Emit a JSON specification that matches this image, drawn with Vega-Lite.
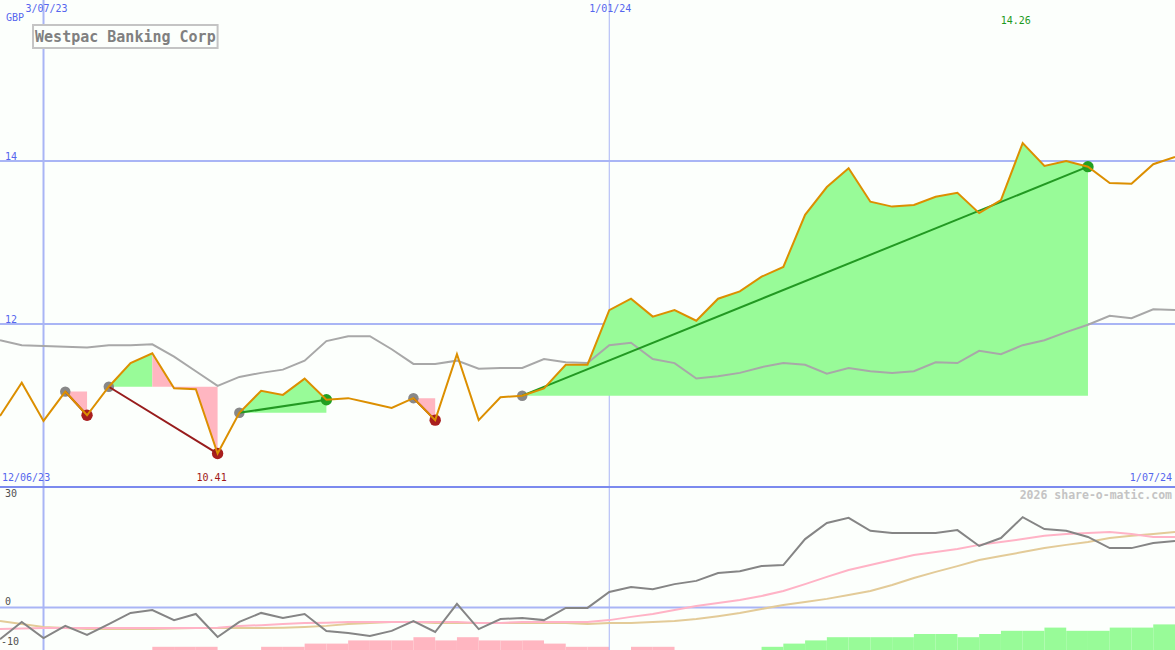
{
  "$schema": "https://vega.github.io/schema/vega-lite/v6.json",
  "description": "Westpac Banking Corp weekly close with trades, moving average and oscillator panel",
  "background": "#fcfffc",
  "padding": 0,
  "spacing": 0,
  "bounds": "flush",
  "config": {"view": {"stroke": null}, "concat": {"spacing": 0}, "text": {"font": "DejaVu Sans Mono"}},
  "datasets": {
    "weekly": [
      {"date": "2023-06-19", "close": 10.87, "ma": 11.80, "osc": -8.8, "fast": -6.0, "slow": -3.75},
      {"date": "2023-06-26", "close": 11.28, "ma": 11.74, "osc": -4.0, "fast": -5.8, "slow": -4.6},
      {"date": "2023-07-03", "close": 10.81, "ma": 11.73, "osc": -8.5, "fast": -5.7, "slow": -5.4},
      {"date": "2023-07-10", "close": 11.17, "ma": 11.72, "osc": -5.1, "fast": -5.7, "slow": -5.7},
      {"date": "2023-07-17", "close": 10.88, "ma": 11.71, "osc": -7.6, "fast": -5.7, "slow": -6.0},
      {"date": "2023-07-24", "close": 11.23, "ma": 11.74, "osc": -4.6, "fast": -5.7, "slow": -6.0},
      {"date": "2023-07-31", "close": 11.52, "ma": 11.74, "osc": -1.5, "fast": -5.7, "slow": -6.0},
      {"date": "2023-08-07", "close": 11.64, "ma": 11.75, "osc": -0.7, "fast": -5.7, "slow": -6.0},
      {"date": "2023-08-14", "close": 11.21, "ma": 11.60, "osc": -3.5, "fast": -5.7, "slow": -5.8},
      {"date": "2023-08-21", "close": 11.20, "ma": 11.42, "osc": -1.8, "fast": -5.7, "slow": -5.7},
      {"date": "2023-08-28", "close": 10.41, "ma": 11.24, "osc": -8.2, "fast": -5.6, "slow": -5.7},
      {"date": "2023-09-04", "close": 10.91, "ma": 11.35, "osc": -4.0, "fast": -5.1, "slow": -5.7},
      {"date": "2023-09-11", "close": 11.18, "ma": 11.40, "osc": -1.5, "fast": -4.9, "slow": -5.7},
      {"date": "2023-09-18", "close": 11.13, "ma": 11.44, "osc": -2.9, "fast": -4.6, "slow": -5.6},
      {"date": "2023-09-25", "close": 11.33, "ma": 11.55, "osc": -1.8, "fast": -4.3, "slow": -5.4},
      {"date": "2023-10-02", "close": 11.07, "ma": 11.79, "osc": -6.5, "fast": -4.2, "slow": -5.1},
      {"date": "2023-10-09", "close": 11.09, "ma": 11.85, "osc": -7.1, "fast": -4.0, "slow": -4.6},
      {"date": "2023-10-16", "close": 11.03, "ma": 11.85, "osc": -7.9, "fast": -4.0, "slow": -4.3},
      {"date": "2023-10-23", "close": 10.97, "ma": 11.69, "osc": -6.5, "fast": -4.0, "slow": -4.0},
      {"date": "2023-10-30", "close": 11.09, "ma": 11.51, "osc": -3.75, "fast": -4.0, "slow": -4.0},
      {"date": "2023-11-06", "close": 10.82, "ma": 11.51, "osc": -6.8, "fast": -4.0, "slow": -4.3},
      {"date": "2023-11-13", "close": 11.63, "ma": 11.55, "osc": 1.0, "fast": -4.0, "slow": -4.3},
      {"date": "2023-11-20", "close": 10.82, "ma": 11.45, "osc": -6.0, "fast": -4.3, "slow": -4.3},
      {"date": "2023-11-27", "close": 11.10, "ma": 11.46, "osc": -3.2, "fast": -4.3, "slow": -4.3},
      {"date": "2023-12-04", "close": 11.12, "ma": 11.46, "osc": -2.9, "fast": -4.0, "slow": -4.3},
      {"date": "2023-12-11", "close": 11.21, "ma": 11.57, "osc": -3.5, "fast": -4.0, "slow": -4.3},
      {"date": "2023-12-18", "close": 11.50, "ma": 11.53, "osc": -0.1, "fast": -4.0, "slow": -4.3},
      {"date": "2023-12-25", "close": 11.50, "ma": 11.52, "osc": -0.1, "fast": -4.0, "slow": -4.6},
      {"date": "2024-01-01", "close": 12.17, "ma": 11.74, "osc": 4.3, "fast": -3.5, "slow": -4.3},
      {"date": "2024-01-08", "close": 12.31, "ma": 11.77, "osc": 5.7, "fast": -2.6, "slow": -4.3},
      {"date": "2024-01-15", "close": 12.09, "ma": 11.57, "osc": 5.1, "fast": -1.8, "slow": -4.0},
      {"date": "2024-01-22", "close": 12.17, "ma": 11.52, "osc": 6.5, "fast": -0.7, "slow": -3.75},
      {"date": "2024-01-29", "close": 12.04, "ma": 11.33, "osc": 7.4, "fast": 0.4, "slow": -3.2},
      {"date": "2024-02-05", "close": 12.31, "ma": 11.36, "osc": 9.6, "fast": 1.25, "slow": -2.4},
      {"date": "2024-02-12", "close": 12.40, "ma": 11.40, "osc": 10.1, "fast": 2.1, "slow": -1.5},
      {"date": "2024-02-19", "close": 12.58, "ma": 11.47, "osc": 11.5, "fast": 3.2, "slow": -0.4},
      {"date": "2024-02-26", "close": 12.70, "ma": 11.52, "osc": 11.8, "fast": 4.6, "slow": 0.7},
      {"date": "2024-03-04", "close": 13.34, "ma": 11.50, "osc": 19.0, "fast": 6.5, "slow": 1.5},
      {"date": "2024-03-11", "close": 13.68, "ma": 11.39, "osc": 23.5, "fast": 8.5, "slow": 2.4},
      {"date": "2024-03-18", "close": 13.91, "ma": 11.46, "osc": 24.9, "fast": 10.4, "slow": 3.5},
      {"date": "2024-03-25", "close": 13.50, "ma": 11.42, "osc": 21.3, "fast": 11.8, "slow": 4.6},
      {"date": "2024-04-01", "close": 13.44, "ma": 11.40, "osc": 20.7, "fast": 13.2, "slow": 6.25},
      {"date": "2024-04-08", "close": 13.46, "ma": 11.42, "osc": 20.7, "fast": 14.6, "slow": 8.2},
      {"date": "2024-04-15", "close": 13.56, "ma": 11.53, "osc": 20.7, "fast": 15.4, "slow": 9.9},
      {"date": "2024-04-22", "close": 13.61, "ma": 11.52, "osc": 21.5, "fast": 16.25, "slow": 11.5},
      {"date": "2024-04-29", "close": 13.36, "ma": 11.67, "osc": 17.1, "fast": 17.4, "slow": 13.2},
      {"date": "2024-05-06", "close": 13.52, "ma": 11.63, "osc": 19.3, "fast": 18.2, "slow": 14.3},
      {"date": "2024-05-13", "close": 14.22, "ma": 11.74, "osc": 25.1, "fast": 19.0, "slow": 15.4},
      {"date": "2024-05-20", "close": 13.94, "ma": 11.80, "osc": 21.8, "fast": 19.9, "slow": 16.5},
      {"date": "2024-05-27", "close": 14.00, "ma": 11.90, "osc": 21.3, "fast": 20.4, "slow": 17.4},
      {"date": "2024-06-03", "close": 13.93, "ma": 11.99, "osc": 19.6, "fast": 20.7, "slow": 18.2},
      {"date": "2024-06-10", "close": 13.73, "ma": 12.10, "osc": 16.5, "fast": 21.0, "slow": 19.3},
      {"date": "2024-06-17", "close": 13.72, "ma": 12.07, "osc": 16.5, "fast": 20.4, "slow": 19.9},
      {"date": "2024-06-24", "close": 13.96, "ma": 12.18, "osc": 17.9, "fast": 19.6, "slow": 20.4},
      {"date": "2024-07-01", "close": 14.05, "ma": 12.17, "osc": 18.5, "fast": 19.6, "slow": 21.0}
    ],
    "fills": [
      {"seg": "A", "result": "loss", "date": "2023-07-10", "close": 11.17, "base": 11.17},
      {"seg": "A", "result": "loss", "date": "2023-07-17", "close": 10.88, "base": 11.17},
      {"seg": "B1", "result": "gain", "date": "2023-07-24", "close": 11.23, "base": 11.23},
      {"seg": "B1", "result": "gain", "date": "2023-07-31", "close": 11.52, "base": 11.23},
      {"seg": "B1", "result": "gain", "date": "2023-08-07", "close": 11.64, "base": 11.23},
      {"seg": "B2", "result": "loss", "date": "2023-08-07", "close": 11.64, "base": 11.23},
      {"seg": "B2", "result": "loss", "date": "2023-08-14", "close": 11.21, "base": 11.23},
      {"seg": "B2", "result": "loss", "date": "2023-08-21", "close": 11.20, "base": 11.23},
      {"seg": "B2", "result": "loss", "date": "2023-08-28", "close": 10.41, "base": 11.23},
      {"seg": "C", "result": "gain", "date": "2023-09-04", "close": 10.91, "base": 10.91},
      {"seg": "C", "result": "gain", "date": "2023-09-11", "close": 11.18, "base": 10.91},
      {"seg": "C", "result": "gain", "date": "2023-09-18", "close": 11.13, "base": 10.91},
      {"seg": "C", "result": "gain", "date": "2023-09-25", "close": 11.33, "base": 10.91},
      {"seg": "C", "result": "gain", "date": "2023-10-02", "close": 11.07, "base": 10.91},
      {"seg": "D", "result": "loss", "date": "2023-10-30", "close": 11.09, "base": 11.09},
      {"seg": "D", "result": "loss", "date": "2023-11-06", "close": 10.82, "base": 11.09},
      {"seg": "E", "result": "gain", "date": "2023-12-04", "close": 11.12, "base": 11.12},
      {"seg": "E", "result": "gain", "date": "2023-12-11", "close": 11.21, "base": 11.12},
      {"seg": "E", "result": "gain", "date": "2023-12-18", "close": 11.50, "base": 11.12},
      {"seg": "E", "result": "gain", "date": "2023-12-25", "close": 11.50, "base": 11.12},
      {"seg": "E", "result": "gain", "date": "2024-01-01", "close": 12.17, "base": 11.12},
      {"seg": "E", "result": "gain", "date": "2024-01-08", "close": 12.31, "base": 11.12},
      {"seg": "E", "result": "gain", "date": "2024-01-15", "close": 12.09, "base": 11.12},
      {"seg": "E", "result": "gain", "date": "2024-01-22", "close": 12.17, "base": 11.12},
      {"seg": "E", "result": "gain", "date": "2024-01-29", "close": 12.04, "base": 11.12},
      {"seg": "E", "result": "gain", "date": "2024-02-05", "close": 12.31, "base": 11.12},
      {"seg": "E", "result": "gain", "date": "2024-02-12", "close": 12.40, "base": 11.12},
      {"seg": "E", "result": "gain", "date": "2024-02-19", "close": 12.58, "base": 11.12},
      {"seg": "E", "result": "gain", "date": "2024-02-26", "close": 12.70, "base": 11.12},
      {"seg": "E", "result": "gain", "date": "2024-03-04", "close": 13.34, "base": 11.12},
      {"seg": "E", "result": "gain", "date": "2024-03-11", "close": 13.68, "base": 11.12},
      {"seg": "E", "result": "gain", "date": "2024-03-18", "close": 13.91, "base": 11.12},
      {"seg": "E", "result": "gain", "date": "2024-03-25", "close": 13.50, "base": 11.12},
      {"seg": "E", "result": "gain", "date": "2024-04-01", "close": 13.44, "base": 11.12},
      {"seg": "E", "result": "gain", "date": "2024-04-08", "close": 13.46, "base": 11.12},
      {"seg": "E", "result": "gain", "date": "2024-04-15", "close": 13.56, "base": 11.12},
      {"seg": "E", "result": "gain", "date": "2024-04-22", "close": 13.61, "base": 11.12},
      {"seg": "E", "result": "gain", "date": "2024-04-29", "close": 13.36, "base": 11.12},
      {"seg": "E", "result": "gain", "date": "2024-05-06", "close": 13.52, "base": 11.12},
      {"seg": "E", "result": "gain", "date": "2024-05-13", "close": 14.22, "base": 11.12},
      {"seg": "E", "result": "gain", "date": "2024-05-20", "close": 13.94, "base": 11.12},
      {"seg": "E", "result": "gain", "date": "2024-05-27", "close": 14.00, "base": 11.12},
      {"seg": "E", "result": "gain", "date": "2024-06-03", "close": 13.93, "base": 11.12}
    ],
    "trades": [
      {"entry": "2023-07-10", "entryPrice": 11.17, "exit": "2023-07-17", "exitPrice": 10.88, "result": "loss"},
      {"entry": "2023-07-24", "entryPrice": 11.23, "exit": "2023-08-28", "exitPrice": 10.41, "result": "loss"},
      {"entry": "2023-09-04", "entryPrice": 10.91, "exit": "2023-10-02", "exitPrice": 11.07, "result": "gain"},
      {"entry": "2023-10-30", "entryPrice": 11.09, "exit": "2023-11-06", "exitPrice": 10.82, "result": "loss"},
      {"entry": "2023-12-04", "entryPrice": 11.12, "exit": "2024-06-03", "exitPrice": 13.93, "result": "gain"}
    ],
    "bars": [
      {"date": "2023-08-07", "end": "2023-08-14", "level": 1, "result": "loss"},
      {"date": "2023-08-14", "end": "2023-08-21", "level": 1, "result": "loss"},
      {"date": "2023-08-21", "end": "2023-08-28", "level": 1, "result": "loss"},
      {"date": "2023-09-11", "end": "2023-09-18", "level": 1, "result": "loss"},
      {"date": "2023-09-18", "end": "2023-09-25", "level": 1, "result": "loss"},
      {"date": "2023-09-25", "end": "2023-10-02", "level": 2, "result": "loss"},
      {"date": "2023-10-02", "end": "2023-10-09", "level": 2, "result": "loss"},
      {"date": "2023-10-09", "end": "2023-10-16", "level": 3, "result": "loss"},
      {"date": "2023-10-16", "end": "2023-10-23", "level": 3, "result": "loss"},
      {"date": "2023-10-23", "end": "2023-10-30", "level": 3, "result": "loss"},
      {"date": "2023-10-30", "end": "2023-11-06", "level": 4, "result": "loss"},
      {"date": "2023-11-06", "end": "2023-11-13", "level": 3, "result": "loss"},
      {"date": "2023-11-13", "end": "2023-11-20", "level": 4, "result": "loss"},
      {"date": "2023-11-20", "end": "2023-11-27", "level": 3, "result": "loss"},
      {"date": "2023-11-27", "end": "2023-12-04", "level": 3, "result": "loss"},
      {"date": "2023-12-04", "end": "2023-12-11", "level": 3, "result": "loss"},
      {"date": "2023-12-11", "end": "2023-12-18", "level": 2, "result": "loss"},
      {"date": "2023-12-18", "end": "2023-12-25", "level": 1, "result": "loss"},
      {"date": "2023-12-25", "end": "2024-01-01", "level": 1, "result": "loss"},
      {"date": "2024-01-08", "end": "2024-01-15", "level": 1, "result": "loss"},
      {"date": "2024-01-15", "end": "2024-01-22", "level": 1, "result": "loss"},
      {"date": "2024-02-19", "end": "2024-02-26", "level": 1, "result": "gain"},
      {"date": "2024-02-26", "end": "2024-03-04", "level": 2, "result": "gain"},
      {"date": "2024-03-04", "end": "2024-03-11", "level": 3, "result": "gain"},
      {"date": "2024-03-11", "end": "2024-03-18", "level": 4, "result": "gain"},
      {"date": "2024-03-18", "end": "2024-03-25", "level": 4, "result": "gain"},
      {"date": "2024-03-25", "end": "2024-04-01", "level": 4, "result": "gain"},
      {"date": "2024-04-01", "end": "2024-04-08", "level": 4, "result": "gain"},
      {"date": "2024-04-08", "end": "2024-04-15", "level": 5, "result": "gain"},
      {"date": "2024-04-15", "end": "2024-04-22", "level": 5, "result": "gain"},
      {"date": "2024-04-22", "end": "2024-04-29", "level": 4, "result": "gain"},
      {"date": "2024-04-29", "end": "2024-05-06", "level": 5, "result": "gain"},
      {"date": "2024-05-06", "end": "2024-05-13", "level": 6, "result": "gain"},
      {"date": "2024-05-13", "end": "2024-05-20", "level": 6, "result": "gain"},
      {"date": "2024-05-20", "end": "2024-05-27", "level": 7, "result": "gain"},
      {"date": "2024-05-27", "end": "2024-06-03", "level": 6, "result": "gain"},
      {"date": "2024-06-03", "end": "2024-06-10", "level": 6, "result": "gain"},
      {"date": "2024-06-10", "end": "2024-06-17", "level": 7, "result": "gain"},
      {"date": "2024-06-17", "end": "2024-06-24", "level": 7, "result": "gain"},
      {"date": "2024-06-24", "end": "2024-07-01", "level": 8, "result": "gain"}
    ]
  },
  "vconcat": [
    {
      "width": 1175,
      "height": 486,
      "resolve": {"scale": {"color": "independent"}},
      "layer": [
        {
          "data": {"values": [{"level": 12}, {"level": 14}]},
          "mark": {"type": "rule", "color": "#a9b5f5", "strokeWidth": 2, "clip": true},
          "encoding": {"y": {"field": "level", "type": "quantitative", "scale": {"domain": [10.012, 15.975], "nice": false, "zero": false}, "axis": null}}
        },
        {
          "data": {"values": [{"date": "2023-07-03"}]},
          "mark": {"type": "rule", "color": "#a9b5f5", "strokeWidth": 2, "clip": true},
          "encoding": {"x": {"field": "date", "type": "temporal", "scale": {"type": "utc", "domain": [{"year": 2023, "month": 6, "date": 19, "utc": true}, {"year": 2024, "month": 7, "date": 1, "utc": true}]}, "axis": null}}
        },
        {
          "data": {"values": [{"date": "2024-01-01"}]},
          "mark": {"type": "rule", "color": "#a9b5f5", "strokeWidth": 1, "clip": true},
          "encoding": {"x": {"field": "date", "type": "temporal", "scale": {"type": "utc", "domain": [{"year": 2023, "month": 6, "date": 19, "utc": true}, {"year": 2024, "month": 7, "date": 1, "utc": true}]}, "axis": null}}
        },
        {
          "data": {"name": "fills"},
          "mark": {"type": "area", "opacity": 1, "clip": true},
          "encoding": {
            "x": {"field": "date", "type": "temporal", "scale": {"type": "utc", "domain": [{"year": 2023, "month": 6, "date": 19, "utc": true}, {"year": 2024, "month": 7, "date": 1, "utc": true}]}, "axis": null},
            "y": {"field": "close", "type": "quantitative", "scale": {"domain": [10.012, 15.975], "nice": false, "zero": false}, "axis": null},
            "y2": {"field": "base"},
            "detail": {"field": "seg", "type": "nominal"},
            "color": {"field": "result", "type": "nominal", "scale": {"domain": ["gain", "loss"], "range": ["#98fb98", "#ffb6c1"]}, "legend": null}
          }
        },
        {
          "data": {"name": "weekly"},
          "mark": {"type": "line", "color": "#a8a8a8", "strokeWidth": 2, "clip": true},
          "encoding": {
            "x": {"field": "date", "type": "temporal", "scale": {"type": "utc", "domain": [{"year": 2023, "month": 6, "date": 19, "utc": true}, {"year": 2024, "month": 7, "date": 1, "utc": true}]}, "axis": null},
            "y": {"field": "ma", "type": "quantitative", "scale": {"domain": [10.012, 15.975], "nice": false, "zero": false}, "axis": null}
          }
        },
        {
          "data": {"name": "trades", "format": {"parse": {"entry": "date", "exit": "date"}}},
          "mark": {"type": "circle", "color": "#888888", "opacity": 1, "size": 110},
          "encoding": {
            "x": {"field": "entry", "type": "temporal", "scale": {"type": "utc", "domain": [{"year": 2023, "month": 6, "date": 19, "utc": true}, {"year": 2024, "month": 7, "date": 1, "utc": true}]}, "axis": null},
            "y": {"field": "entryPrice", "type": "quantitative", "scale": {"domain": [10.012, 15.975], "nice": false, "zero": false}, "axis": null}
          }
        },
        {
          "data": {"name": "trades", "format": {"parse": {"entry": "date", "exit": "date"}}},
          "mark": {"type": "circle", "opacity": 1, "size": 130},
          "encoding": {
            "x": {"field": "exit", "type": "temporal", "scale": {"type": "utc", "domain": [{"year": 2023, "month": 6, "date": 19, "utc": true}, {"year": 2024, "month": 7, "date": 1, "utc": true}]}, "axis": null},
            "y": {"field": "exitPrice", "type": "quantitative", "scale": {"domain": [10.012, 15.975], "nice": false, "zero": false}, "axis": null},
            "color": {"field": "result", "type": "nominal", "scale": {"domain": ["gain", "loss"], "range": ["#22a022", "#a81e1e"]}, "legend": null}
          }
        },
        {
          "data": {"name": "trades", "format": {"parse": {"entry": "date", "exit": "date"}}},
          "mark": {"type": "rule", "strokeWidth": 2, "clip": true},
          "encoding": {
            "x": {"field": "entry", "type": "temporal", "scale": {"type": "utc", "domain": [{"year": 2023, "month": 6, "date": 19, "utc": true}, {"year": 2024, "month": 7, "date": 1, "utc": true}]}, "axis": null},
            "x2": {"field": "exit"},
            "y": {"field": "entryPrice", "type": "quantitative", "scale": {"domain": [10.012, 15.975], "nice": false, "zero": false}, "axis": null},
            "y2": {"field": "exitPrice"},
            "color": {"field": "result", "type": "nominal", "scale": {"domain": ["gain", "loss"], "range": ["#229922", "#981c1c"]}, "legend": null}
          }
        },
        {
          "data": {"name": "weekly"},
          "mark": {"type": "line", "color": "#dc8f00", "strokeWidth": 2, "clip": true},
          "encoding": {
            "x": {"field": "date", "type": "temporal", "scale": {"type": "utc", "domain": [{"year": 2023, "month": 6, "date": 19, "utc": true}, {"year": 2024, "month": 7, "date": 1, "utc": true}]}, "axis": null},
            "y": {"field": "close", "type": "quantitative", "scale": {"domain": [10.012, 15.975], "nice": false, "zero": false}, "axis": null}
          }
        },
        {
          "data": {"values": [{"name": "Westpac Banking Corp"}]},
          "mark": {"type": "rect", "fill": "#fcfffc", "stroke": "#c4c4c4", "strokeWidth": 2},
          "encoding": {
            "x": {"datum": {"year": 2023, "month": 6, "date": 29, "hours": 15, "utc": true}, "type": "temporal", "scale": {"type": "utc", "domain": [{"year": 2023, "month": 6, "date": 19, "utc": true}, {"year": 2024, "month": 7, "date": 1, "utc": true}]}, "axis": null},
            "x2": {"datum": {"year": 2023, "month": 8, "date": 28, "utc": true}},
            "y": {"datum": 15.668, "type": "quantitative", "scale": {"domain": [10.012, 15.975], "nice": false, "zero": false}, "axis": null},
            "y2": {"datum": 15.386}
          }
        },
        {
          "data": {"values": [{"name": "Westpac Banking Corp"}]},
          "mark": {"type": "text", "align": "center", "baseline": "middle", "fontSize": 15, "fontWeight": "bold", "color": "#808080"},
          "encoding": {
            "x": {"datum": {"year": 2023, "month": 7, "date": 29, "hours": 8, "utc": true}, "type": "temporal", "scale": {"type": "utc", "domain": [{"year": 2023, "month": 6, "date": 19, "utc": true}, {"year": 2024, "month": 7, "date": 1, "utc": true}]}, "axis": null},
            "y": {"datum": 15.527, "type": "quantitative", "scale": {"domain": [10.012, 15.975], "nice": false, "zero": false}, "axis": null},
            "text": {"field": "name"}
          }
        },
        {
          "data": {"values": [{"label": "GBP"}]},
          "mark": {"type": "text", "align": "left", "baseline": "middle", "fontSize": 10, "color": "#5566ee", "dx": 6},
          "encoding": {
            "x": {"datum": {"year": 2023, "month": 6, "date": 19, "utc": true}, "type": "temporal", "scale": {"type": "utc", "domain": [{"year": 2023, "month": 6, "date": 19, "utc": true}, {"year": 2024, "month": 7, "date": 1, "utc": true}]}, "axis": null},
            "y": {"datum": 15.754, "type": "quantitative", "scale": {"domain": [10.012, 15.975], "nice": false, "zero": false}, "axis": null},
            "text": {"field": "label"}
          }
        },
        {
          "data": {"values": [{"label": "3/07/23"}]},
          "mark": {"type": "text", "align": "center", "baseline": "middle", "fontSize": 10, "color": "#5566ee", "dx": 3},
          "encoding": {
            "x": {"datum": {"year": 2023, "month": 7, "date": 3, "utc": true}, "type": "temporal", "scale": {"type": "utc", "domain": [{"year": 2023, "month": 6, "date": 19, "utc": true}, {"year": 2024, "month": 7, "date": 1, "utc": true}]}, "axis": null},
            "y": {"datum": 15.865, "type": "quantitative", "scale": {"domain": [10.012, 15.975], "nice": false, "zero": false}, "axis": null},
            "text": {"field": "label"}
          }
        },
        {
          "data": {"values": [{"label": "1/01/24"}]},
          "mark": {"type": "text", "align": "center", "baseline": "middle", "fontSize": 10, "color": "#5566ee", "dx": 1},
          "encoding": {
            "x": {"datum": {"year": 2024, "month": 1, "date": 1, "utc": true}, "type": "temporal", "scale": {"type": "utc", "domain": [{"year": 2023, "month": 6, "date": 19, "utc": true}, {"year": 2024, "month": 7, "date": 1, "utc": true}]}, "axis": null},
            "y": {"datum": 15.865, "type": "quantitative", "scale": {"domain": [10.012, 15.975], "nice": false, "zero": false}, "axis": null},
            "text": {"field": "label"}
          }
        },
        {
          "data": {"values": [{"label": "14", "level": 14}, {"label": "12", "level": 12}]},
          "mark": {"type": "text", "align": "left", "baseline": "alphabetic", "fontSize": 10, "color": "#5566ee", "dx": 5, "dy": -1},
          "encoding": {
            "x": {"datum": {"year": 2023, "month": 6, "date": 19, "utc": true}, "type": "temporal", "scale": {"type": "utc", "domain": [{"year": 2023, "month": 6, "date": 19, "utc": true}, {"year": 2024, "month": 7, "date": 1, "utc": true}]}, "axis": null},
            "y": {"field": "level", "type": "quantitative", "scale": {"domain": [10.012, 15.975], "nice": false, "zero": false}, "axis": null},
            "text": {"field": "label"}
          }
        },
        {
          "data": {"values": [{"label": "14.26"}]},
          "mark": {"type": "text", "align": "center", "baseline": "middle", "fontSize": 10, "color": "#1c9a1c", "dx": -7},
          "encoding": {
            "x": {"datum": {"year": 2024, "month": 5, "date": 13, "utc": true}, "type": "temporal", "scale": {"type": "utc", "domain": [{"year": 2023, "month": 6, "date": 19, "utc": true}, {"year": 2024, "month": 7, "date": 1, "utc": true}]}, "axis": null},
            "y": {"datum": 15.717, "type": "quantitative", "scale": {"domain": [10.012, 15.975], "nice": false, "zero": false}, "axis": null},
            "text": {"field": "label"}
          }
        },
        {
          "data": {"values": [{"label": "10.41"}]},
          "mark": {"type": "text", "align": "center", "baseline": "middle", "fontSize": 10, "color": "#a01818", "dx": -6},
          "encoding": {
            "x": {"datum": {"year": 2023, "month": 8, "date": 28, "utc": true}, "type": "temporal", "scale": {"type": "utc", "domain": [{"year": 2023, "month": 6, "date": 19, "utc": true}, {"year": 2024, "month": 7, "date": 1, "utc": true}]}, "axis": null},
            "y": {"datum": 10.11, "type": "quantitative", "scale": {"domain": [10.012, 15.975], "nice": false, "zero": false}, "axis": null},
            "text": {"field": "label"}
          }
        },
        {
          "data": {"values": [{"label": "12/06/23"}]},
          "mark": {"type": "text", "align": "left", "baseline": "middle", "fontSize": 10, "color": "#5566ee", "dx": 2},
          "encoding": {
            "x": {"datum": {"year": 2023, "month": 6, "date": 19, "utc": true}, "type": "temporal", "scale": {"type": "utc", "domain": [{"year": 2023, "month": 6, "date": 19, "utc": true}, {"year": 2024, "month": 7, "date": 1, "utc": true}]}, "axis": null},
            "y": {"datum": 10.11, "type": "quantitative", "scale": {"domain": [10.012, 15.975], "nice": false, "zero": false}, "axis": null},
            "text": {"field": "label"}
          }
        },
        {
          "data": {"values": [{"label": "1/07/24"}]},
          "mark": {"type": "text", "align": "right", "baseline": "middle", "fontSize": 10, "color": "#5566ee", "dx": -3},
          "encoding": {
            "x": {"datum": {"year": 2024, "month": 7, "date": 1, "utc": true}, "type": "temporal", "scale": {"type": "utc", "domain": [{"year": 2023, "month": 6, "date": 19, "utc": true}, {"year": 2024, "month": 7, "date": 1, "utc": true}]}, "axis": null},
            "y": {"datum": 10.11, "type": "quantitative", "scale": {"domain": [10.012, 15.975], "nice": false, "zero": false}, "axis": null},
            "text": {"field": "label"}
          }
        }
      ]
    },
    {
      "width": 1175,
      "height": 164,
      "resolve": {"scale": {"y": "independent"}},
      "layer": [
        {
          "data": {"name": "bars", "format": {"parse": {"date": "date", "end": "date"}}},
          "mark": {"type": "rect", "clip": true},
          "encoding": {
            "x": {"field": "date", "type": "temporal", "scale": {"type": "utc", "domain": [{"year": 2023, "month": 6, "date": 19, "utc": true}, {"year": 2024, "month": 7, "date": 1, "utc": true}]}, "axis": null},
            "x2": {"field": "end"},
            "y": {"field": "level", "type": "quantitative", "scale": {"domain": [0, 51.25], "nice": false, "zero": false}, "axis": null},
            "y2": {"datum": 0},
            "color": {"field": "result", "type": "nominal", "scale": {"domain": ["gain", "loss"], "range": ["#98fb98", "#ffb6c1"]}, "legend": null}
          }
        },
        {
          "data": {"values": [{"level": 0}]},
          "mark": {"type": "rule", "color": "#a9b5f5", "strokeWidth": 2, "clip": true},
          "encoding": {"y": {"field": "level", "type": "quantitative", "scale": {"domain": [-11.8, 33.75], "nice": false, "zero": false}, "axis": null}}
        },
        {
          "data": {"values": [{"date": "2023-07-03"}]},
          "mark": {"type": "rule", "color": "#a9b5f5", "strokeWidth": 2, "clip": true},
          "encoding": {"x": {"field": "date", "type": "temporal", "scale": {"type": "utc", "domain": [{"year": 2023, "month": 6, "date": 19, "utc": true}, {"year": 2024, "month": 7, "date": 1, "utc": true}]}, "axis": null}}
        },
        {
          "data": {"values": [{"date": "2024-01-01"}]},
          "mark": {"type": "rule", "color": "#a9b5f5", "strokeWidth": 1, "clip": true},
          "encoding": {"x": {"field": "date", "type": "temporal", "scale": {"type": "utc", "domain": [{"year": 2023, "month": 6, "date": 19, "utc": true}, {"year": 2024, "month": 7, "date": 1, "utc": true}]}, "axis": null}}
        },
        {
          "data": {"values": [{"edge": "panel top"}]},
          "mark": {"type": "rule", "color": "#7b8aee", "strokeWidth": 2, "clip": true},
          "encoding": {"y": {"datum": 33.47, "type": "quantitative", "scale": {"domain": [-11.8, 33.75], "nice": false, "zero": false}, "axis": null}}
        },
        {
          "data": {"name": "weekly"},
          "mark": {"type": "line", "color": "#e3cb98", "strokeWidth": 2, "clip": true},
          "encoding": {
            "x": {"field": "date", "type": "temporal", "scale": {"type": "utc", "domain": [{"year": 2023, "month": 6, "date": 19, "utc": true}, {"year": 2024, "month": 7, "date": 1, "utc": true}]}, "axis": null},
            "y": {"field": "slow", "type": "quantitative", "scale": {"domain": [-11.8, 33.75], "nice": false, "zero": false}, "axis": null}
          }
        },
        {
          "data": {"name": "weekly"},
          "mark": {"type": "line", "color": "#ffb3c6", "strokeWidth": 2, "clip": true},
          "encoding": {
            "x": {"field": "date", "type": "temporal", "scale": {"type": "utc", "domain": [{"year": 2023, "month": 6, "date": 19, "utc": true}, {"year": 2024, "month": 7, "date": 1, "utc": true}]}, "axis": null},
            "y": {"field": "fast", "type": "quantitative", "scale": {"domain": [-11.8, 33.75], "nice": false, "zero": false}, "axis": null}
          }
        },
        {
          "data": {"name": "weekly"},
          "mark": {"type": "line", "color": "#858585", "strokeWidth": 2, "clip": true},
          "encoding": {
            "x": {"field": "date", "type": "temporal", "scale": {"type": "utc", "domain": [{"year": 2023, "month": 6, "date": 19, "utc": true}, {"year": 2024, "month": 7, "date": 1, "utc": true}]}, "axis": null},
            "y": {"field": "osc", "type": "quantitative", "scale": {"domain": [-11.8, 33.75], "nice": false, "zero": false}, "axis": null}
          }
        },
        {
          "data": {"values": [{"label": "30", "level": 30}, {"label": "0", "level": 0}]},
          "mark": {"type": "text", "align": "left", "baseline": "bottom", "fontSize": 10, "color": "#505050", "dx": 5, "dy": -1},
          "encoding": {
            "x": {"datum": {"year": 2023, "month": 6, "date": 19, "utc": true}, "type": "temporal", "scale": {"type": "utc", "domain": [{"year": 2023, "month": 6, "date": 19, "utc": true}, {"year": 2024, "month": 7, "date": 1, "utc": true}]}, "axis": null},
            "y": {"field": "level", "type": "quantitative", "scale": {"domain": [-11.8, 33.75], "nice": false, "zero": false}, "axis": null},
            "text": {"field": "label"}
          }
        },
        {
          "data": {"values": [{"label": "-10"}]},
          "mark": {"type": "text", "align": "left", "baseline": "bottom", "fontSize": 10, "color": "#505050", "dx": 1, "dy": 3},
          "encoding": {
            "x": {"datum": {"year": 2023, "month": 6, "date": 19, "utc": true}, "type": "temporal", "scale": {"type": "utc", "domain": [{"year": 2023, "month": 6, "date": 19, "utc": true}, {"year": 2024, "month": 7, "date": 1, "utc": true}]}, "axis": null},
            "y": {"datum": -10, "type": "quantitative", "scale": {"domain": [-11.8, 33.75], "nice": false, "zero": false}, "axis": null},
            "text": {"field": "label"}
          }
        },
        {
          "data": {"values": [{"label": "2026 share-o-matic.com"}]},
          "mark": {"type": "text", "align": "right", "baseline": "middle", "fontSize": 11.5, "fontWeight": "bold", "color": "#c4c4c4", "dx": -3},
          "encoding": {
            "x": {"datum": {"year": 2024, "month": 7, "date": 1, "utc": true}, "type": "temporal", "scale": {"type": "utc", "domain": [{"year": 2023, "month": 6, "date": 19, "utc": true}, {"year": 2024, "month": 7, "date": 1, "utc": true}]}, "axis": null},
            "y": {"datum": 31.0, "type": "quantitative", "scale": {"domain": [-11.8, 33.75], "nice": false, "zero": false}, "axis": null},
            "text": {"field": "label"}
          }
        }
      ]
    }
  ]
}
